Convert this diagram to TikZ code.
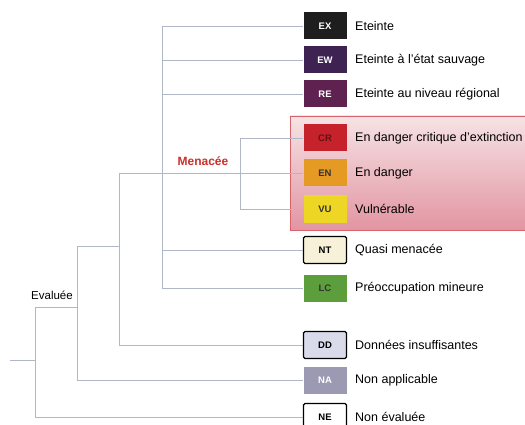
\documentclass[tikz,border=0pt]{standalone}
\usepackage{fontspec}
\setmainfont{Liberation Sans}
\usetikzlibrary{positioning}
\definecolor{treeline}{HTML}{B0B7C6}
\definecolor{exfill}{HTML}{1E1E1E}
\definecolor{ewfill}{HTML}{3E2352}
\definecolor{refill}{HTML}{5E2150}
\definecolor{crfill}{HTML}{C6222B}
\definecolor{enfill}{HTML}{E59A24}
\definecolor{vufill}{HTML}{EED624}
\definecolor{ntfill}{HTML}{F6F1D8}
\definecolor{lcfill}{HTML}{5C9E3C}
\definecolor{ddfill}{HTML}{D9DBEA}
\definecolor{nafill}{HTML}{9C9AB2}
\definecolor{pinktop}{HTML}{F6E3E5}
\definecolor{pinkbot}{HTML}{E295A2}
\definecolor{menred}{HTML}{C8302A}
\tikzset{
  tree/.style={draw=treeline, line width=0.7pt},
  cat/.style={minimum width=43pt, minimum height=27pt, inner sep=0pt,
    font=\fontsize{9.5}{10}\selectfont\bfseries},
  framed/.style={cat, draw=black, line width=1.3pt, rounded corners=1.5pt},
  lab/.style={anchor=west, inner sep=0pt, font=\fontsize{12.5}{14}\selectfont},
}
\begin{document}
\begin{tikzpicture}[x=1pt,y=-1pt]
\useasboundingbox (0,0) rectangle (525,425);
% threatened group
\shade[top color=pinktop, bottom color=pinkbot, draw=crfill!70, line width=0.6pt]
  (290,116) rectangle (527,230);
% categories
\node[cat, fill=exfill, text=white] (ex) at (325,26) {EX};
\node[cat, fill=ewfill, text=white] (ew) at (325,60) {EW};
\node[cat, fill=refill, text=white] (re) at (325,94) {RE};
\node[cat, fill=crfill, text=crfill!50!black] (cr) at (325,138) {CR};
\node[cat, fill=enfill, text=black!80] (en) at (325,173) {EN};
\node[cat, fill=vufill, text=black!80] (vu) at (325,209) {VU};
\node[framed, fill=ntfill] (nt) at (325,250) {NT};
\node[cat, fill=lcfill, text=black!80] (lc) at (325,288) {LC};
\node[framed, fill=ddfill] (dd) at (325,345) {DD};
\node[cat, fill=nafill, text=white] (na) at (325,380) {NA};
\node[framed, fill=white] (ne) at (325,417) {NE};
% names
\node[lab] (exl) at (355,26) {Eteinte};
\node[lab] (ewl) at (355,60) {Eteinte à l'état sauvage};
\node[lab] (rel) at (355,94) {Eteinte au niveau régional};
\node[lab] (crl) at (355,138) {En danger critique d'extinction};
\node[lab] (enl) at (355,173) {En danger};
\node[lab] (vul) at (355,209) {Vulnérable};
\node[lab] (ntl) at (355,250) {Quasi menacée};
\node[lab] (lcl) at (355,288) {Préoccupation mineure};
\node[lab] (ddl) at (355,345) {Données insuffisantes};
\node[lab] (nal) at (355,380) {Non applicable};
\node[lab] (nel) at (355,417) {Non évaluée};
\node[font=\fontsize{11.5}{13}\selectfont] (eval) at (52,295) {Evaluée};
\node[font=\fontsize{12}{14}\selectfont\bfseries, text=menred] (men) at (203,161) {Menacée};
% tree
\coordinate (root) at (10,360);
\coordinate (n0) at (35,307);
\coordinate (n1) at (77,246);
\coordinate (n2) at (119,173);
\coordinate (n3) at (162,173);
\coordinate (n4) at (240,173);
\draw[tree] (root) -- (root -| n0);
\draw[tree] (n0) |- (ne.west);
\draw[tree] (n0) -| (n1);
\draw[tree] (n1) |- (na.west);
\draw[tree] (n1) -| (n2);
\draw[tree] (n2) |- (dd.west);
\draw[tree] (n2) -- (en.west);
\draw[tree] (ex.west -| n3) -- (lc.west -| n3);
\foreach \c in {ex,ew,re,nt,lc}
  \draw[tree] (\c.west -| n3) -- (\c.west);
\draw[tree] (cr.west -| n4) -- (vu.west -| n4);
\foreach \c in {cr,vu}
  \draw[tree] (\c.west -| n4) -- (\c.west);
\end{tikzpicture}
\end{document}
